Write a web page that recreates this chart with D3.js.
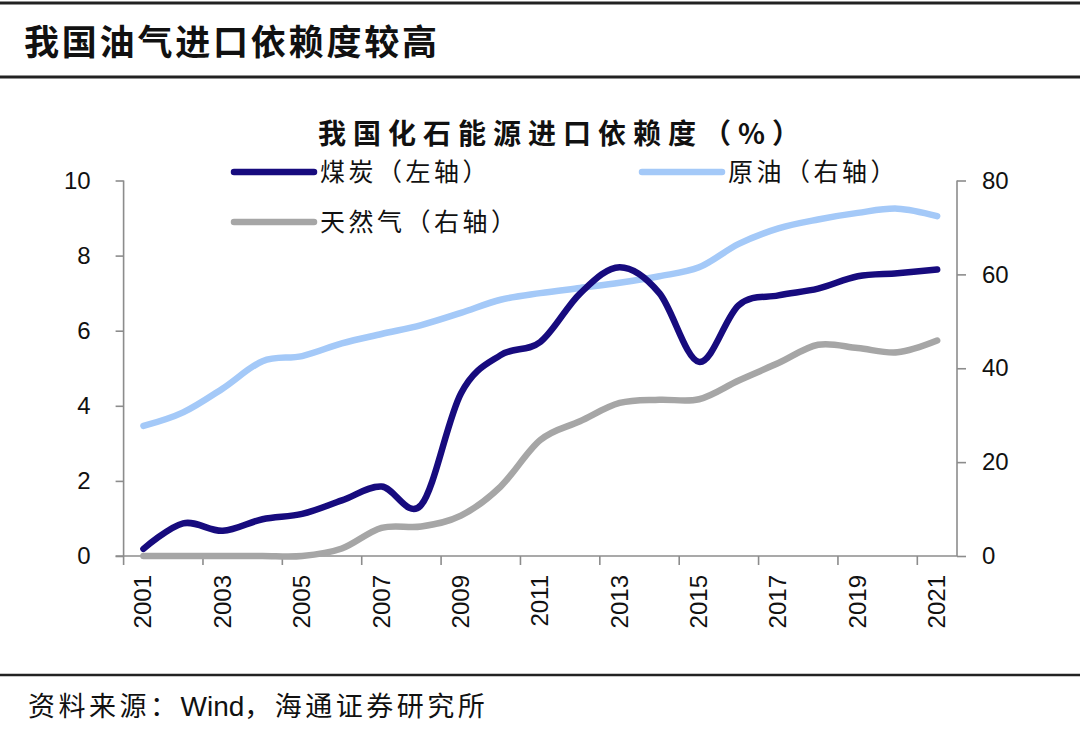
<!DOCTYPE html>
<html><head><meta charset="utf-8">
<script src="https://cdn.jsdelivr.net/npm/d3@7/dist/d3.min.js"></script>
<style>
html,body{margin:0;padding:0;background:#fff;}
svg{display:block;}
</style></head>
<body>
<svg id="c" width="1080" height="736"></svg>
<script>
const years = d3.range(2001, 2022);
const coal = [0.19,0.87,0.67,0.98,1.12,1.48,1.85,1.36,4.33,5.35,5.70,6.99,7.69,7.00,5.17,6.68,6.94,7.12,7.45,7.53,7.63];
const oil = [27.7,30.6,35.7,41.5,42.6,45.3,47.3,49.2,51.8,54.6,56.0,57.1,58.2,59.6,61.5,66.5,69.8,71.7,73.1,74.0,72.4];
const gas = [0,0,0,0,0,1.6,6.0,6.3,8.6,14.8,24.7,28.7,32.6,33.3,33.4,37.4,41.1,45.0,44.3,43.4,45.9];
const leftTicks = [0,2,4,6,8,10];
const rightTicks = [0,20,40,60,80];
const xTickLabels = [2001,2003,2005,2007,2009,2011,2013,2015,2017,2019,2021];

const svg = d3.select("#c");
const L = 123.6, R = 957, T = 180.5, B = 556;
const cjk = "'Noto Sans CJK SC', 'Noto Sans', sans-serif";
const latin = "'Liberation Sans', Arial, sans-serif";

svg.append("line").attr("x1",0).attr("x2",1080).attr("y1",3).attr("y2",3).attr("stroke","#222").attr("stroke-width",3);
svg.append("line").attr("x1",0).attr("x2",1080).attr("y1",77).attr("y2",77).attr("stroke","#222").attr("stroke-width",3);
svg.append("line").attr("x1",0).attr("x2",1080).attr("y1",675).attr("y2",675).attr("stroke","#222").attr("stroke-width",2.5);

svg.append("text").attr("x",24).attr("y",55).attr("font-family",cjk).attr("font-weight","bold")
  .attr("font-size",35).attr("letter-spacing",2.8).attr("fill","#111").text("我国油气进口依赖度较高");
const src = svg.append("text").attr("x",28).attr("y",716).attr("font-family",cjk)
  .attr("font-size",27).attr("fill","#111");
src.append("tspan").attr("letter-spacing",3.5).text("资料来源：");
src.append("tspan").attr("font-family",latin).attr("font-size",28).text("Wind");
src.append("tspan").attr("letter-spacing",3.5).text("，海通证券研究所");

svg.append("text").attr("x",318).attr("y",144).attr("font-family",cjk).attr("font-weight","bold")
  .attr("font-size",28).attr("letter-spacing",7).attr("fill","#111").text("我国化石能源进口依赖度（%）");

const x = d3.scaleBand().domain(years).range([L, R]).paddingInner(0).paddingOuter(0);
const yL = d3.scaleLinear().domain([0,10]).range([B, T]);
const yR = d3.scaleLinear().domain([0,80]).range([B, T]);

const axisColor = "#8c8c8c";
const gl = svg.append("g").attr("transform",`translate(${L},0)`)
  .call(d3.axisLeft(yL).tickValues(leftTicks).tickSize(8).tickPadding(25).tickFormat(d3.format("d")));
const gr = svg.append("g").attr("transform",`translate(${R},0)`)
  .call(d3.axisRight(yR).tickValues(rightTicks).tickSize(9).tickPadding(16).tickFormat(d3.format("d")));
[gl,gr].forEach(g=>{
  g.select(".domain").attr("stroke",axisColor).attr("stroke-width",1.6).attr("d",`M0,${T}V${B}`);
  g.selectAll(".tick line").attr("stroke",axisColor).attr("stroke-width",1.6);
  g.selectAll(".tick text").attr("font-family",latin).attr("font-size",24).attr("fill","#111");
});
svg.append("line").attr("x1",L-8).attr("x2",R).attr("y1",B).attr("y2",B).attr("stroke",axisColor).attr("stroke-width",1.6);
const boundaries = years.filter((d,i)=>i%2===0).map(d=>x(d));
svg.append("g").selectAll("line").data(boundaries).join("line")
  .attr("x1",d=>d).attr("x2",d=>d).attr("y1",B).attr("y2",B+9).attr("stroke",axisColor).attr("stroke-width",1.6);
svg.append("g").selectAll("text").data(xTickLabels).join("text")
  .attr("transform",d=>`translate(${x(d)+x.bandwidth()/2+8},575) rotate(-90)`)
  .attr("text-anchor","end").attr("font-family",latin).attr("font-size",24).attr("fill","#111").text(d=>d);

const cx = d => x(d) + x.bandwidth()/2;
const curve = d3.curveCardinal.tension(0);
const series = [
  {name:"天然气（右轴）", data:gas, y:yR, color:"#a6a6a6"},
  {name:"原油（右轴）", data:oil, y:yR, color:"#a4c9f8"},
  {name:"煤炭（左轴）", data:coal, y:yL, color:"#170b7e"}
];
series.forEach(s=>{
  const line = d3.line().x((d,i)=>cx(years[i])).y(d=>s.y(d)).curve(curve);
  svg.append("path").datum(s.data).attr("d",line).attr("fill","none")
    .attr("stroke",s.color).attr("stroke-width",6.5).attr("stroke-linecap","round").attr("stroke-linejoin","round");
});

const legend = [
  {name:"煤炭（左轴）", color:"#170b7e", x:234, y:172},
  {name:"原油（右轴）", color:"#a4c9f8", x:642, y:172},
  {name:"天然气（右轴）", color:"#a6a6a6", x:234, y:222}
];
legend.forEach(l=>{
  svg.append("line").attr("x1",l.x).attr("x2",l.x+80).attr("y1",l.y).attr("y2",l.y)
    .attr("stroke",l.color).attr("stroke-width",6.5).attr("stroke-linecap","round");
  svg.append("text").attr("x",l.x+86).attr("y",l.y+9).attr("font-family",cjk).attr("font-size",25)
    .attr("letter-spacing",3.5).attr("fill","#111").text(l.name);
});
</script>
</body></html>
